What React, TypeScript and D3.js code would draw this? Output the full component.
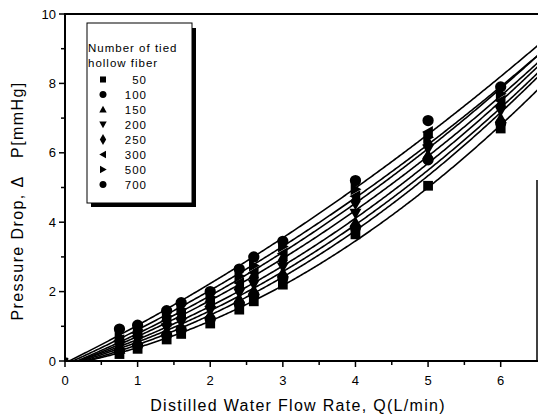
import React from "react";
import * as d3 from "d3";

const flowRates = [0, 0.75, 1.0, 1.4, 1.6, 2.0, 2.4, 2.6, 3.0, 4.0, 5.0, 6.0];
const fiberCounts = ["50", "100", "150", "200", "250", "300", "500", "700"];
const s50 = [0, 0.2, 0.35, 0.62, 0.78, 1.08, 1.48, 1.72, 2.2, 3.65, 5.05, 6.7];
const s100 = [0, 0.3, 0.45, 0.75, 0.9, 1.2, 1.65, 1.9, 2.4, 3.85, 5.8, 6.85];
const s150 = [0, 0.35, 0.55, 0.85, 1.0, 1.35, 1.8, 2.05, 2.55, 4.0, 5.95, 7.0];
const s200 = [0, 0.45, 0.6, 0.95, 1.1, 1.45, 1.95, 2.2, 2.7, 4.25, 6.1, 7.2];
const s250 = [0, 0.5, 0.7, 1.05, 1.25, 1.6, 2.1, 2.4, 2.9, 4.6, 6.25, 7.35];
const s300 = [0, 0.6, 0.8, 1.15, 1.35, 1.7, 2.25, 2.55, 3.1, 4.75, 6.6, 7.5];
const s500 = [0, 0.7, 0.9, 1.3, 1.5, 1.85, 2.45, 2.75, 3.3, 4.95, 6.45, 7.7];
const s700 = [0, 0.92, 1.03, 1.45, 1.68, 2.0, 2.65, 3.0, 3.45, 5.2, 6.93, 7.9];
const seriesValues = [s50, s100, s150, s200, s250, s300, s500, s700];
const symbolTypes = [
  d3.symbolSquare,
  d3.symbolCircle,
  "up",
  "down",
  d3.symbolDiamond,
  "left",
  "right",
  d3.symbolCircle,
];
const xTicks = [0, 1, 2, 3, 4, 5, 6];
const xMinor = [0.5, 1.5, 2.5, 3.5, 4.5, 5.5];
const yTicks = [0, 2, 4, 6, 8, 10];
const yMinor = [1, 3, 5, 7, 9];

function fitQuadratic(xs: number[], ys: number[]) {
  let s0 = 0, s1 = 0, s2 = 0, s3 = 0, s4 = 0, t0 = 0, t1 = 0, t2 = 0;
  xs.forEach((x, i) => {
    const y = ys[i];
    s0 += 1; s1 += x; s2 += x * x; s3 += x * x * x; s4 += x * x * x * x;
    t0 += y; t1 += x * y; t2 += x * x * y;
  });
  const M = [
    [s0, s1, s2, t0],
    [s1, s2, s3, t1],
    [s2, s3, s4, t2],
  ];
  for (let i = 0; i < 3; i++) {
    let p = i;
    for (let r = i + 1; r < 3; r++) if (Math.abs(M[r][i]) > Math.abs(M[p][i])) p = r;
    [M[i], M[p]] = [M[p], M[i]];
    for (let r = 0; r < 3; r++) {
      if (r === i) continue;
      const f = M[r][i] / M[i][i];
      for (let c = i; c < 4; c++) M[r][c] -= f * M[i][c];
    }
  }
  return [M[0][3] / M[0][0], M[1][3] / M[1][1], M[2][3] / M[2][2]];
}

function triPath(kind: string, r: number) {
  const h = r;
  if (kind === "up") return `M0,${-h}L${h},${h * 0.8}L${-h},${h * 0.8}Z`;
  if (kind === "down") return `M0,${h}L${h},${-h * 0.8}L${-h},${-h * 0.8}Z`;
  if (kind === "left") return `M${-h},0L${h * 0.8},${-h}L${h * 0.8},${h}Z`;
  return `M${h},0L${-h * 0.8},${-h}L${-h * 0.8},${h}Z`;
}

function markerPath(i: number, scale: number) {
  const t = symbolTypes[i];
  if (typeof t === "string") return triPath(t, 6 * scale);
  const size = t === d3.symbolDiamond ? 90 : t === d3.symbolSquare ? 95 : 100;
  return d3.symbol(t as any, size * scale * scale)() as string;
}

export default function App() {
  const W = 538, H = 418;
  const x = d3.scaleLinear().domain([0, 6.5]).range([65, 537]);
  const y = d3.scaleLinear().domain([0, 10]).range([361, 14]);
  const font = "'Liberation Sans', Arial, Helvetica, sans-serif";

  const line = d3
    .line<[number, number]>()
    .x((d) => x(d[0]))
    .y((d) => y(d[1]));

  const curves = seriesValues.map((vals) => {
    const [a, b, c] = fitQuadratic(flowRates, vals);
    const pts: [number, number][] = [];
    for (let q = 0; q <= 6.6; q += 0.02) {
      const v = a + b * q + c * q * q;
      if (v >= 0) pts.push([q, v]);
    }
    return line(pts) as string;
  });

  return (
    <svg width={W} height={H} style={{ display: "block", position: "absolute", left: 0, top: 0 }}>
      <defs>
        <clipPath id="plot">
          <rect x={65} y={14} width={472} height={347} />
        </clipPath>
      </defs>
      <rect width={W} height={H} fill="#fff" />
      <g clipPath="url(#plot)">
        {curves.map((d, i) => (
          <path key={i} d={d} fill="none" stroke="#000" strokeWidth={1.6} />
        ))}
      </g>
      <g clipPath="url(#plot)">
        {seriesValues.map((vals, i) =>
          vals.map((v, j) => (
            <path
              key={`${i}-${j}`}
              d={markerPath(i, j === 0 ? 0.6 : 1)}
              transform={`translate(${x(flowRates[j])},${y(v)})`}
              fill="#000"
            />
          ))
        )}
      </g>
      <line x1={65} x2={538} y1={14} y2={14} stroke="#000" strokeWidth={2} />
      <line x1={537} x2={537} y1={180} y2={362} stroke="#000" strokeWidth={1.5} />
      <line x1={65} x2={65} y1={13} y2={362} stroke="#000" strokeWidth={2} />
      <line x1={64} x2={538} y1={361} y2={361} stroke="#000" strokeWidth={2} />
      {xTicks.map((t) => (
        <g key={`xt${t}`}>
          <line x1={x(t)} x2={x(t)} y1={361} y2={367} stroke="#000" strokeWidth={1.5} />
          <text x={x(t)} y={385} textAnchor="middle" fontFamily={font} fontSize={13}>
            {t}
          </text>
        </g>
      ))}
      {xMinor.map((t) => (
        <line key={`xm${t}`} x1={x(t)} x2={x(t)} y1={361} y2={365} stroke="#000" strokeWidth={1.5} />
      ))}
      {yTicks.map((t) => (
        <g key={`yt${t}`}>
          <line x1={59} x2={65} y1={y(t)} y2={y(t)} stroke="#000" strokeWidth={1.5} />
          <text x={56} y={y(t) + 4.5} textAnchor="end" fontFamily={font} fontSize={13}>
            {t}
          </text>
        </g>
      ))}
      {yMinor.map((t) => (
        <line key={`ym${t}`} x1={61} x2={65} y1={y(t)} y2={y(t)} stroke="#000" strokeWidth={1.5} />
      ))}
      <text
        x={298}
        y={411}
        textAnchor="middle"
        fontFamily={font}
        fontSize={16}
        letterSpacing={1.3}
      >
        Distilled Water Flow Rate, Q(L/min)
      </text>
      <text
        transform="translate(23,201) rotate(-90)"
        textAnchor="middle"
        fontFamily={font}
        fontSize={16}
        letterSpacing={1.4}
      >
        {"Pressure Drop, \u0394\u00a0\u00a0\u00a0P[mmHg]"}
      </text>
      <rect x={91} y={28} width={105} height={179} fill="#000" />
      <rect x={87} y={23} width={105} height={180} fill="#fff" stroke="#000" strokeWidth={1} />
      <text x={88} y={52} fontFamily={font} fontSize={11.5} letterSpacing={1}>
        Number of tied
      </text>
      <text x={88} y={67} fontFamily={font} fontSize={11.5} letterSpacing={1}>
        hollow fiber
      </text>
      {fiberCounts.map((n, i) => (
        <g key={`lg${n}`}>
          <path d={markerPath(i, 0.62)} transform={`translate(103,${79.5 + i * 15})`} fill="#000" />
          <text x={147} y={83.5 + i * 15} textAnchor="end" fontFamily={font} fontSize={11.5} letterSpacing={1}>
            {n}
          </text>
        </g>
      ))}
    </svg>
  );
}
